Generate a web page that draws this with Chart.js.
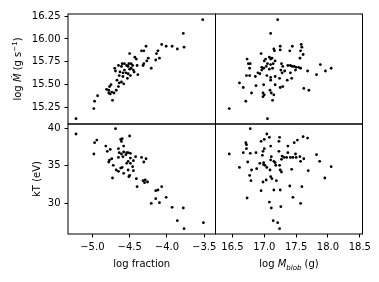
<!DOCTYPE html>
<html>
<head>
<meta charset="utf-8">
<script src="https://cdn.jsdelivr.net/npm/chart.js@4.4.0/dist/chart.umd.min.js"></script>
<style>
body { margin: 0; background: #fff; }
#wrap { position: relative; width: 379px; height: 282px; }
#wrap canvas { position: absolute; left: 0; top: 0; }
</style>
</head>
<body>
<div id="wrap">
<canvas id="tl" width="379" height="282"></canvas>
<canvas id="tr" width="379" height="282"></canvas>
<canvas id="bl" width="379" height="282"></canvas>
<canvas id="br" width="379" height="282"></canvas>
</div>
<script>
// top left: log fraction vs log Mdot
const tlFrac = [-3.52, -3.78, -3.77, -3.86, -3.93, -4.01, -4.07, -4.12, -4.14, -4.10, -4.15, -4.21, -4.28, -4.34, -4.31, -4.25, -4.27, -4.31, -4.32, -4.43, -4.41, -4.50, -4.40, -4.39,
    -4.60, -4.57, -4.61, -4.54, -4.52, -4.48, -4.46, -4.50, -4.45, -4.44, -4.57, -4.59, -4.63, -4.64, -4.55, -4.52, -4.49, -4.53, -4.59, -4.67, -4.61, -4.58, -4.65,
    -4.70, -4.69, -4.65, -4.48, -4.51, -4.75, -4.77, -4.81, -4.78, -4.78, -4.74, -4.76, -4.71, -4.73, -4.68, -4.64, -4.93, -4.97, -4.98, -5.22];
const tlMdot = [16.21, 16.06, 15.91, 15.89, 15.92, 15.92, 15.94, 15.87, 15.84, 15.79, 15.77, 15.68, 15.92, 15.87, 15.87, 15.79, 15.76, 15.73, 15.71, 15.80, 15.78, 15.84, 15.71, 15.61,
    15.73, 15.73, 15.70, 15.71, 15.70, 15.73, 15.71, 15.67, 15.66, 15.64, 15.66, 15.63, 15.64, 15.60, 15.63, 15.62, 15.60, 15.57, 15.59, 15.55, 15.53, 15.51, 15.48,
    15.68, 15.65, 15.71, 15.68, 15.73, 15.50, 15.48, 15.45, 15.44, 15.41, 15.42, 15.40, 15.41, 15.33, 15.44, 15.52, 15.38, 15.32, 15.24, 15.13];

// top right: log M_blob vs log Mdot
const trMass = [17.21, 17.10, 17.15, 17.16, 17.25, 17.25, 17.40, 17.44, 17.58, 17.59, 17.57, 17.61, 17.56, 16.95, 17.08, 17.10, 17.12, 17.02, 17.00, 16.73, 16.75, 16.78, 16.77,
    17.05, 17.03, 17.10, 17.14, 17.17, 16.96, 16.99, 16.96, 17.08, 17.13, 17.27, 17.29, 17.26, 17.32, 17.28, 17.37, 17.41, 17.44, 17.47, 17.50, 17.49, 17.54, 17.57,
    17.41, 17.68, 17.88, 17.96, 18.05, 17.82, 16.72, 16.77, 16.86, 16.93, 16.90, 17.04, 17.10, 17.17, 17.24, 17.36, 17.43, 16.61, 16.67, 16.87, 16.99, 17.10, 17.17,
    17.25, 17.29, 16.80, 16.98, 17.00, 16.98, 17.09, 17.11, 17.15, 17.13, 17.62, 17.70, 16.71, 16.45, 17.05];
const trMdot = [16.21, 16.06, 15.89, 15.87, 15.92, 15.88, 15.87, 15.92, 15.94, 15.91, 15.87, 15.83, 15.79, 15.84, 15.80, 15.78, 15.79, 15.78, 15.76, 15.78, 15.73, 15.73, 15.68,
    15.73, 15.70, 15.72, 15.73, 15.76, 15.69, 15.68, 15.66, 15.67, 15.68, 15.73, 15.70, 15.66, 15.65, 15.63, 15.71, 15.71, 15.70, 15.70, 15.69, 15.66, 15.69, 15.68,
    15.63, 15.65, 15.72, 15.65, 15.68, 15.61, 15.60, 15.60, 15.59, 15.62, 15.63, 15.60, 15.58, 15.59, 15.57, 15.55, 15.57, 15.52, 15.47, 15.49, 15.50, 15.55, 15.50,
    15.47, 15.48, 15.41, 15.41, 15.39, 15.37, 15.44, 15.41, 15.39, 15.33, 15.46, 15.44, 15.32, 15.24, 15.13];

// bottom left: log fraction vs kT
const blFrac = [-5.22, -4.69, -4.97, -4.94, -4.62, -4.50, -4.60, -4.61, -4.82, -4.76, -4.80, -4.65, -4.58, -4.98, -4.64, -4.61, -4.58, -4.54, -4.52, -4.49,
    -4.65, -4.59, -4.55, -4.77, -4.74, -4.78, -4.42, -4.34, -4.28, -4.31, -4.49, -4.52, -4.54, -4.49, -4.45, -4.72, -4.68, -4.62, -4.60, -4.65, -4.58, -4.52,
    -4.46, -4.73, -4.50, -4.51, -4.41, -4.45, -4.32, -4.29, -4.26, -4.30, -4.40, -4.15, -4.12, -4.07, -4.15, -4.01, -4.21, -4.10, -3.93, -3.78, -3.86, -3.77, -3.51];
const blKT = [39.24, 39.95, 38.08, 38.43, 38.52, 38.97, 38.61, 38.25, 37.63, 37.18, 36.92, 37.27, 37.63, 36.56, 36.74, 36.56, 36.83, 36.74, 36.74, 36.65,
    36.11, 36.20, 36.47, 35.75, 35.93, 35.49, 36.20, 36.11, 35.93, 35.49, 36.02, 35.58, 35.31, 35.31, 35.67, 35.04, 34.42, 34.68, 34.77, 34.24, 33.97, 34.42,
    34.86, 33.35, 33.70, 33.52, 33.26, 34.33, 32.99, 33.08, 32.81, 32.72, 32.19, 31.65, 31.74, 32.19, 30.58, 30.76, 29.95, 30.04, 29.42, 29.33, 27.63, 26.56, 27.37];

// bottom right: log M_blob vs kT
const brMass = [16.78, 17.04, 17.08, 16.95, 17.00, 17.24, 17.61, 17.68, 16.71, 16.72, 17.47, 17.52, 17.23, 16.45, 16.67, 16.72, 16.78, 16.87, 16.98, 17.00,
    16.97, 17.10, 17.23, 17.37, 17.37, 17.11, 17.10, 17.15, 17.17, 17.28, 17.31, 17.27, 17.35, 17.41, 17.45, 17.49, 17.50, 17.56, 17.57, 17.62, 17.82, 17.87,
    18.05, 16.74, 16.61, 16.80, 16.88, 16.93, 16.99, 17.01, 17.04, 17.09, 16.99, 17.18, 17.24, 17.25, 17.27, 17.43, 17.69, 17.95, 16.77, 16.79, 16.98, 17.03,
    17.10, 17.12, 17.19, 16.95, 17.15, 17.25, 17.40, 17.59, 16.73, 17.45, 17.57, 17.08, 17.11, 17.26, 17.14, 17.21, 17.24];
const brKT = [39.95, 39.24, 38.79, 38.26, 38.52, 38.79, 38.88, 38.70, 38.08, 37.81, 38.08, 38.43, 38.26, 36.56, 36.74, 37.27, 36.65, 36.74, 36.92, 37.27,
    36.38, 37.63, 36.92, 37.63, 36.74, 36.20, 35.76, 35.58, 35.40, 36.29, 36.11, 35.85, 36.11, 36.11, 36.11, 36.56, 36.11, 36.20, 35.58, 35.93, 36.47, 35.58,
    34.86, 35.49, 34.77, 34.42, 34.60, 35.31, 35.40, 35.04, 34.77, 34.42, 35.13, 35.04, 35.04, 34.42, 34.15, 34.51, 34.33, 33.35, 33.70, 32.99, 32.81, 33.08,
    33.52, 33.26, 32.99, 31.65, 31.74, 31.74, 32.28, 32.19, 30.67, 30.76, 29.95, 30.13, 29.33, 29.51, 27.63, 27.37, 26.56];

// ticks
const fracTicks = [-5.0, -4.5, -4.0, -3.5];
const massTicks = [16.5, 17.0, 17.5, 18.0, 18.5];
const mdotTicks = [15.25, 15.5, 15.75, 16.0, 16.25];
const ktTicks = [30, 35, 40];

const FONT = 'DejaVu Sans';

function pts(xs, ys) {
    return xs.map((x, i) => ({ x: x, y: ys[i] }));
}

function axis(min, max, ticks, fmt, show, size) {
    return {
        type: 'linear',
        min: min,
        max: max,
        display: show,
        afterBuildTicks: s => { s.ticks = ticks.map(v => ({ value: v })); },
        afterFit: s => {
            if (s.isHorizontal()) s.height = size; else s.width = size;
            s.paddingLeft = 0; s.paddingRight = 0; s.paddingTop = 0; s.paddingBottom = 0;
        },
        grid: { drawOnChartArea: false, drawTicks: true, tickLength: 3.5, color: '#000', lineWidth: 1 },
        border: { display: false },
        ticks: {
            color: '#000',
            font: { family: FONT, size: 10 },
            padding: 4,
            maxRotation: 0,
            autoSkip: false,
            callback: v => fmt(v)
        }
    };
}

const fmtFrac = v => (v < 0 ? '\u2212' : '') + Math.abs(v).toFixed(1);
const fmtMass = v => v.toFixed(1);
const fmtMdot = v => v.toFixed(2);
const fmtKT = v => String(v);

// box round each panel
const frame = {
    id: 'frame',
    afterDatasetsDraw(chart) {
        const a = chart.chartArea;
        const ctx = chart.ctx;
        ctx.save();
        ctx.strokeStyle = '#000';
        ctx.lineWidth = 1;
        ctx.strokeRect(a.left, a.top, a.right - a.left, a.bottom - a.top);
        ctx.restore();
    }
};

// text with mixed fonts, centred on (x, y) baseline
function richText(ctx, parts, x, y, angle) {
    ctx.save();
    ctx.translate(x, y);
    ctx.rotate(angle);
    ctx.fillStyle = '#000';
    ctx.textBaseline = 'alphabetic';
    let total = 0;
    parts.forEach(p => {
        ctx.font = p.style + ' ' + p.size + 'px ' + FONT;
        total += ctx.measureText(p.t).width;
    });
    let cx = -total / 2;
    parts.forEach(p => {
        ctx.font = p.style + ' ' + p.size + 'px ' + FONT;
        ctx.fillText(p.t, cx, p.dy || 0);
        cx += ctx.measureText(p.t).width;
    });
    ctx.restore();
}

const titles = {
    id: 'titles',
    afterDraw(chart) {
        const ctx = chart.ctx;
        richText(ctx, [{ t: 'log fraction', style: 'normal', size: 10 }], 141.75, 267, 0);
        richText(ctx, [
            { t: 'log ', style: 'normal', size: 10 },
            { t: 'M', style: 'italic', size: 10 },
            { t: 'blob', style: 'italic', size: 7, dy: 2.5 },
            { t: ' (g)', style: 'normal', size: 10 }
        ], 289, 267, 0);
        richText(ctx, [
            { t: 'log ', style: 'normal', size: 10 },
            { t: '\u1E40', style: 'italic', size: 10 },
            { t: ' (g s', style: 'normal', size: 10 },
            { t: '\u22121', style: 'normal', size: 7, dy: -4 },
            { t: ')', style: 'normal', size: 10 }
        ], 21, 69, -Math.PI / 2);
        richText(ctx, [{ t: 'kT (eV)', style: 'normal', size: 10 }], 39.5, 179, -Math.PI / 2);
    }
};

function panel(id, xs, ys, xAxis, yAxis, pad, extra) {
    return new Chart(document.getElementById(id), {
        type: 'scatter',
        data: {
            datasets: [{
                data: pts(xs, ys),
                backgroundColor: '#000',
                borderWidth: 0,
                pointRadius: 1.4,
                pointHoverRadius: 1.4
            }]
        },
        options: {
            responsive: false,
            animation: false,
            devicePixelRatio: 1,
            layout: { padding: pad },
            plugins: { legend: { display: false }, tooltip: { enabled: false } },
            scales: { x: xAxis, y: yAxis }
        },
        plugins: extra ? [frame, extra] : [frame]
    });
}

const fracMin = -5.327, fracMax = -3.348;
const massMin = 16.234, massMax = 18.542;
const mdotMin = 15.072, mdotMax = 16.272;
const ktMin = 25.85, ktMax = 40.58;

panel('tl', tlFrac, tlMdot,
    axis(fracMin, fracMax, fracTicks, fmtFrac, false, 0),
    axis(mdotMin, mdotMax, mdotTicks, fmtMdot, true, 68),
    { left: 0, top: 14, right: 163.5, bottom: 158 });

panel('tr', trMass, trMdot,
    axis(massMin, massMax, massTicks, fmtMass, false, 0),
    axis(mdotMin, mdotMax, mdotTicks, fmtMdot, false, 0),
    { left: 215.5, top: 14, right: 16.5, bottom: 158 });

panel('bl', blFrac, blKT,
    axis(fracMin, fracMax, fracTicks, fmtFrac, true, 20),
    axis(ktMin, ktMax, ktTicks, fmtKT, true, 68),
    { left: 0, top: 124, right: 163.5, bottom: 28 }, titles);

panel('br', brMass, brKT,
    axis(massMin, massMax, massTicks, fmtMass, true, 20),
    axis(ktMin, ktMax, ktTicks, fmtKT, false, 0),
    { left: 215.5, top: 124, right: 16.5, bottom: 28 });
</script>
</body>
</html>
